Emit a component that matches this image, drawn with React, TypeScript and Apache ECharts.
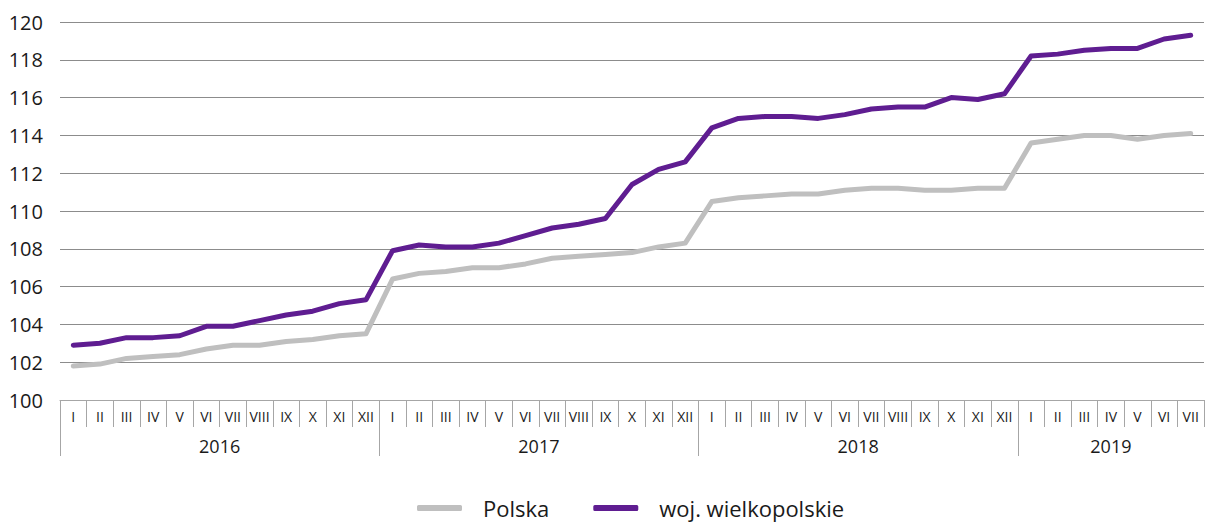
import React, { useEffect, useRef } from "react";
import * as echarts from "echarts";

const romanMonths = ["I", "II", "III", "IV", "V", "VI", "VII", "VIII", "IX", "X", "XI", "XII"];
const years = ["2016", "2017", "2018", "2019"];
const monthsPerYear = [12, 12, 12, 7];

const polska = [
  101.8, 101.9, 102.2, 102.3, 102.4, 102.7, 102.9, 102.9, 103.1, 103.2, 103.4, 103.5,
  106.4, 106.7, 106.8, 107.0, 107.0, 107.2, 107.5, 107.6, 107.7, 107.8, 108.1, 108.3,
  110.5, 110.7, 110.8, 110.9, 110.9, 111.1, 111.2, 111.2, 111.1, 111.1, 111.2, 111.2,
  113.6, 113.8, 114.0, 114.0, 113.8, 114.0, 114.1,
];
const wielkopolskie = [
  102.9, 103.0, 103.3, 103.3, 103.4, 103.9, 103.9, 104.2, 104.5, 104.7, 105.1, 105.3,
  107.9, 108.2, 108.1, 108.1, 108.3, 108.7, 109.1, 109.3, 109.6, 111.4, 112.2, 112.6,
  114.4, 114.9, 115.0, 115.0, 114.9, 115.1, 115.4, 115.5, 115.5, 116.0, 115.9, 116.2,
  118.2, 118.3, 118.5, 118.6, 118.6, 119.1, 119.3,
];

const seriesNames = ["Polska", "woj. wielkopolskie"];
const seriesColors = ["#bfbfbf", "#5f1d91"];

const categories: string[] = [];
const yearStarts: number[] = [];
const yearCenters: number[] = [];
{
  let pos = 0;
  monthsPerYear.forEach((n) => {
    yearStarts.push(pos);
    yearCenters.push(pos + n / 2);
    for (let i = 0; i < n; i++) categories.push(romanMonths[i]);
    pos += n;
  });
}
const total = categories.length;

export default function App() {
  const ref = useRef<HTMLDivElement>(null);
  useEffect(() => {
    if (!ref.current) return;
    const chart = echarts.init(ref.current, null, { renderer: "svg" });
    const font = "'Open Sans', 'Noto Sans', sans-serif";
    chart.setOption({
      animation: false,
      textStyle: { fontFamily: font },
      grid: { left: 60, right: 1, top: 22, bottom: 122 },
      legend: {
        top: 497,
        left: 417,
        padding: 0,
        itemWidth: 45,
        itemHeight: 6,
        itemGap: 44,
        icon: "roundRect",
        textStyle: {
          fontSize: 22,
          lineHeight: 22,
          color: "#1a1a1a",
          fontFamily: font,
          padding: [0, 0, 0, 16],
        },
        data: seriesNames,
      },
      xAxis: [
        {
          type: "category",
          data: categories,
          position: "bottom",
          boundaryGap: true,
          axisLine: { show: true, lineStyle: { color: "#a6a6a6", width: 1 } },
          axisTick: { show: true, interval: 0, length: 27, lineStyle: { color: "#a6a6a6" } },
          axisLabel: { interval: 0, fontSize: 14, color: "#1a1a1a", margin: 9, fontFamily: font },
          splitLine: { show: false },
        },
        {
          type: "value",
          min: 0,
          max: total,
          position: "bottom",
          axisLine: { show: false },
          axisTick: { show: true, customValues: yearStarts, length: 56, lineStyle: { color: "#a6a6a6" } },
          axisLabel: {
            customValues: yearCenters,
            fontSize: 18,
            color: "#1a1a1a",
            margin: 37,
            fontFamily: font,
            formatter: (v: number) => {
              const i = yearCenters.findIndex((c) => Math.abs(c - v) < 1e-6);
              return i >= 0 ? years[i] : "";
            },
          },
          splitLine: { show: false },
        },
      ],
      yAxis: {
        type: "value",
        min: 100,
        max: 120,
        interval: 2,
        axisLine: { show: false },
        axisTick: { show: false },
        axisLabel: { fontSize: 20, color: "#1a1a1a", margin: 17, fontFamily: font },
        splitLine: { show: true, lineStyle: { color: "#8c8c8c", width: 1 } },
      },
      series: [
        {
          name: seriesNames[0],
          type: "line",
          data: polska,
          xAxisIndex: 0,
          symbol: "none",
          color: seriesColors[0],
          lineStyle: { width: 5, color: seriesColors[0], cap: "round", join: "round" },
        },
        {
          name: seriesNames[1],
          type: "line",
          data: wielkopolskie,
          xAxisIndex: 0,
          symbol: "none",
          color: seriesColors[1],
          lineStyle: { width: 5, color: seriesColors[1], cap: "round", join: "round" },
        },
      ],
    });
    return () => chart.dispose();
  }, []);
  return (
    <div
      ref={ref}
      style={{ position: "absolute", left: 0, top: 0, width: 1205, height: 522, background: "#fff" }}
    />
  );
}
